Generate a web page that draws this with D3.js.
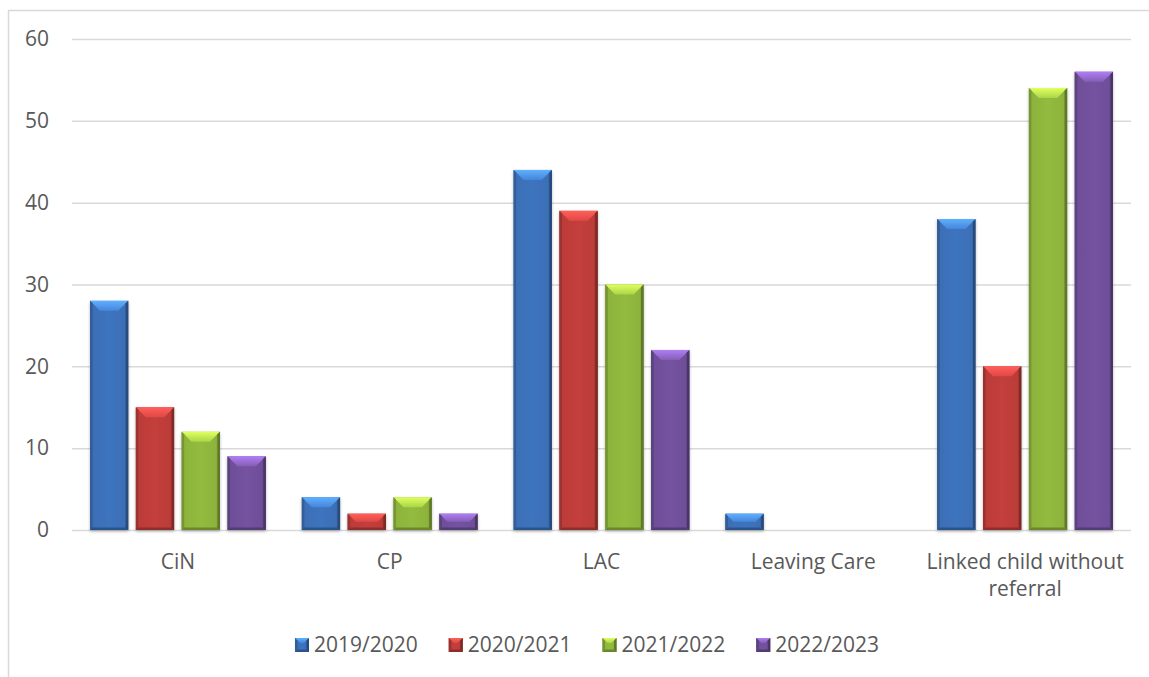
<!DOCTYPE html>
<html><head><meta charset="utf-8">
<script src="https://cdn.jsdelivr.net/npm/d3@7"></script>
<style>
body{margin:0;background:#fff}
svg{display:block}
text{font-family:"Open Sans",sans-serif;fill:#595959}
</style>
</head><body>
<svg id="c" width="1149" height="677"></svg>
<script>
const categories = ["CiN", "CP", "LAC", "Leaving Care", "Linked child without referral"];
const seriesNames = ["2019/2020", "2020/2021", "2021/2022", "2022/2023"];
const s2019 = [28, 4, 44, 2, 38];
const s2020 = [15, 2, 39, 0, 20];
const s2021 = [12, 4, 30, 0, 54];
const s2022 = [9, 2, 22, 0, 56];
const yTicks = [0, 10, 20, 30, 40, 50, 60];
const colors = ["#3b6fb6", "#bb3c39", "#8db33c", "#6f4f99"];

const seriesValues = [s2019, s2020, s2021, s2022];

const svg = d3.select("#c");
const W = 1149, H = 677;
const plot = {left: 72, right: 1131, top: 39, bottom: 530};

// chart border (extends beyond the picture on right/bottom)
svg.append("path")
  .attr("d", `M8.5,${H} L8.5,10.5 L${W},10.5`)
  .attr("fill", "none").attr("stroke", "#d9d9d9").attr("stroke-width", 1.5);

const y = d3.scaleLinear().domain([0, 60]).range([plot.bottom, plot.top]);
const x0 = d3.scaleBand().domain(categories).range([plot.left, plot.right]).padding(0);
const groupPad = 18;
const x1 = d3.scaleBand().domain(seriesNames)
  .range([groupPad, x0.bandwidth() - groupPad]).paddingInner(0.165).paddingOuter(0);

// defs: gradients & shadow
const defs = svg.append("defs");
colors.forEach((c, i) => {
  const base = d3.color(c);
  const g = defs.append("linearGradient").attr("id", "h" + i).attr("x1", 0).attr("x2", 1).attr("y1", 0).attr("y2", 0);
  [[0, base.darker(0.6)], [0.07, base], [0.5, base.brighter(0.12)], [0.9, base], [1, base.darker(0.9)]]
    .forEach(([o, col]) => g.append("stop").attr("offset", o).attr("stop-color", col));
  const t = defs.append("linearGradient").attr("id", "t" + i).attr("x1", 0).attr("x2", 0).attr("y1", 0).attr("y2", 1);
  [[0, base.brighter(1.3)], [1, base.brighter(0.5)]]
    .forEach(([o, col]) => t.append("stop").attr("offset", o).attr("stop-color", col));
});
const f = defs.append("filter").attr("id", "sh").attr("x", "-20%").attr("y", "-20%").attr("width", "140%").attr("height", "140%");
f.append("feDropShadow").attr("dx", 0).attr("dy", 1.5).attr("stdDeviation", 1.5)
  .attr("flood-color", "#000").attr("flood-opacity", 0.28);

// y axis with gridlines
const yAxis = d3.axisLeft(y).tickValues(yTicks)
  .tickSize(-(plot.right - plot.left)).tickPadding(23);
const ga = svg.append("g").attr("transform", `translate(${plot.left},0)`).call(yAxis);
ga.select(".domain").remove();
ga.selectAll("line").attr("stroke", "#d9d9d9").attr("stroke-width", 1.5);
ga.selectAll("text").attr("fill", "#595959").style("font-size", "21px")
  .style("font-family", '"Open Sans",sans-serif');

// bevel drawing
function bevelBar(g, bx, by, bw, bh, i, bev) {
  const base = d3.color(colors[i]);
  const b = Math.min(bev, bw / 2 - 1, bh / 2);
  g.append("rect").attr("x", bx).attr("y", by).attr("width", bw).attr("height", bh)
    .attr("fill", `url(#h${i})`);
  // top face (light)
  g.append("path").attr("d",
    `M${bx},${by} L${bx + bw},${by} L${bx + bw - b},${by + b} L${bx + b},${by + b} Z`)
    .attr("fill", `url(#t${i})`);
  // left edge
  const s = Math.min(2.5, bh / 4);
  g.append("path").attr("d",
    `M${bx},${by} L${bx + s},${by + s} L${bx + s},${by + bh - s} L${bx},${by + bh} Z`)
    .attr("fill", base.darker(0.5));
  // right edge
  g.append("path").attr("d",
    `M${bx + bw},${by} L${bx + bw - s},${by + s} L${bx + bw - s},${by + bh - s} L${bx + bw},${by + bh} Z`)
    .attr("fill", base.darker(1.1));
  // bottom edge
  g.append("path").attr("d",
    `M${bx},${by + bh} L${bx + s},${by + bh - s} L${bx + bw - s},${by + bh - s} L${bx + bw},${by + bh} Z`)
    .attr("fill", base.darker(0.8));
}

const bars = svg.append("g").attr("filter", "url(#sh)");
categories.forEach((cat, ci) => {
  seriesNames.forEach((sn, si) => {
    const v = seriesValues[si][ci];
    if (!v) return;
    const bx = x0(cat) + x1(sn);
    const by = y(v);
    const bh = y(0) - y(v);
    bevelBar(bars.append("g"), bx, by, x1.bandwidth(), bh, si, 10);
  });
});

// category labels (wrapped)
const labelFont = 21;
const lg = svg.append("g");
categories.forEach(cat => {
  const t = lg.append("text").attr("text-anchor", "middle")
    .attr("x", x0(cat) + x0.bandwidth() / 2).attr("y", 569)
    .style("font-size", labelFont + "px");
  const words = cat.split(" ");
  let line = [];
  let ts = t.append("tspan").attr("x", x0(cat) + x0.bandwidth() / 2).attr("dy", 0);
  words.forEach(w => {
    line.push(w);
    ts.text(line.join(" "));
    if (ts.node().getComputedTextLength() > x0.bandwidth() - 4 && line.length > 1) {
      line.pop();
      ts.text(line.join(" "));
      line = [w];
      ts = t.append("tspan").attr("x", x0(cat) + x0.bandwidth() / 2).attr("dy", 27).text(w);
    }
  });
});

// legend
const legend = svg.append("g");
const sq = 14, gapSq = 5, gapItem = 31;
let cx = 0;
seriesNames.forEach((sn, i) => {
  const g = legend.append("g");
  const txt = g.append("text").attr("x", cx + sq + gapSq).attr("y", 652)
    .style("font-size", "21px").text(sn);
  const tw = txt.node().getComputedTextLength();
  bevelBar(g, cx, 638, sq, sq, i, 5);
  cx += sq + gapSq + tw + gapItem;
});
const totalW = cx - gapItem;
legend.attr("transform", `translate(${587 - totalW / 2},0)`);
</script>
</body></html>
